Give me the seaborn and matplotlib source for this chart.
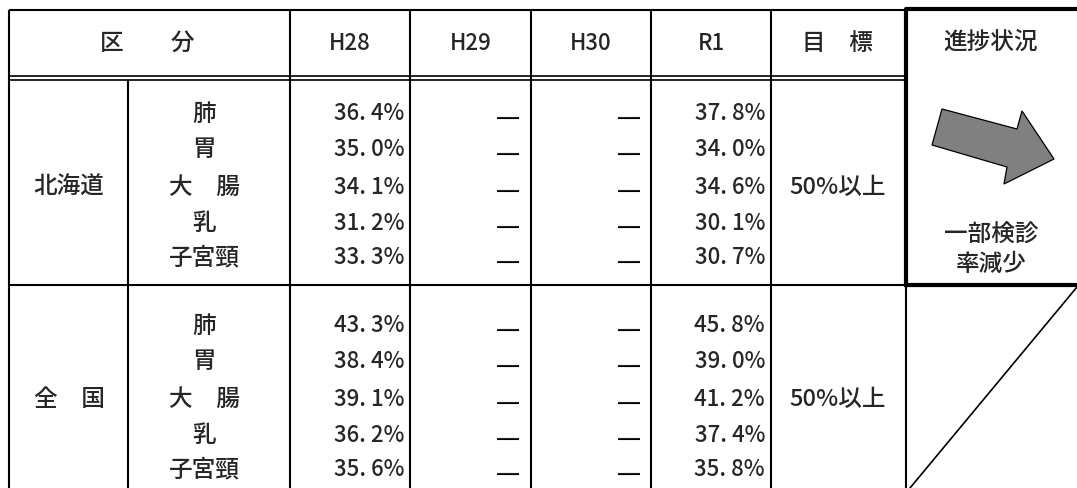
import numpy as np
import matplotlib.pyplot as plt
import matplotlib.patches as mpatches
import matplotlib.patheffects as pe
import seaborn as sns

# table contents
headers = ['H28', 'H29', 'H30', 'R1']
regions = ['北海道', '全　国']
sites = ['肺', '胃', '大　腸', '乳', '子宮頸']
h28 = [[36.4, 35.0, 34.1, 31.2, 33.3],
       [43.3, 38.4, 39.1, 36.2, 35.6]]
r1 = [[37.8, 34.0, 34.6, 30.1, 30.7],
      [45.8, 39.0, 41.2, 37.4, 35.8]]
target = '50%以上'
progress = '一部検診\n率減少'

sns.set_theme(style='white')
plt.rcParams['font.family'] = ['Noto Sans CJK JP', 'DejaVu Sans']
plt.rcParams['font.weight'] = 'medium'

fig = plt.figure(figsize=(10.77, 4.88), dpi=100)
ax = fig.add_axes([0, 0, 1, 1])
ax.set_xlim(0, 1077)
ax.set_ylim(488, 0)
ax.axis('off')

xs = [9, 128, 290, 410, 531, 651, 771, 906, 1077]
lw = 1.5
k = 'black'

# grid lines
ax.hlines(10, xs[0], xs[7], color=k, lw=lw)
ax.hlines([75.7, 80.3], xs[0], xs[7], color=k, lw=1.2)
ax.hlines(285, xs[0], xs[7], color=k, lw=lw)
ax.vlines(xs[0], 10, 488, color=k, lw=lw)
ax.vlines(xs[1], 80, 488, color=k, lw=lw)
ax.vlines(xs[2:7], 10, 488, color=k, lw=lw)
ax.vlines(xs[7], 285, 488, color=k, lw=lw)
# thick box around progress column
ax.plot([xs[7], xs[7], 1080], [285, 8.5, 8.5], color=k, lw=3, solid_capstyle='projecting')
ax.hlines(285, xs[7], 1080, color=k, lw=3)
# diagonal in empty cell
ax.plot([910, 1077], [488, 287], color=k, lw=1.2)

# arrow
arrow = mpatches.Polygon([(942, 109), (1017, 129), (1022, 111), (1054, 159),
                          (1004, 184), (1007, 167), (932, 145)],
                         closed=True, facecolor='#808080', edgecolor=k, lw=0.9)
ax.add_patch(arrow)

fs_cjk = 17
fs_num = 16
heavy = [pe.withStroke(linewidth=0.8, foreground=k)]
kw = dict(va='center')

# header row
hy = 43
ax.text(147, hy, '区　　分', ha='center', fontsize=fs_cjk, **kw)
for i, h in enumerate(headers):
    ax.text((xs[i + 2] + xs[i + 3]) / 2, hy, h, ha='center', fontsize=fs_num, **kw)
ax.text(837, hy, '目　標', ha='center', fontsize=fs_cjk, **kw)
ax.text(991, hy, '進捗状況', ha='center', fontsize=fs_cjk, **kw)

centers = [187, 399]
offs = [-73, -37, 0, 36, 71]
for s in range(2):
    cy = centers[s]
    ax.text(69, cy, regions[s], ha='center', fontsize=fs_cjk, **kw)
    ax.text(838, cy, target, ha='center', fontsize=fs_cjk, **kw)
    for j in range(5):
        y = cy + offs[j]
        ax.text(204, y, sites[j], ha='center', fontsize=fs_cjk, **kw)
        ax.text(404, y, f'{h28[s][j]:.1f}%'.replace('.', '. '), ha='right', fontsize=fs_num, **kw)
        ax.text(520, y + 6, '―', ha='right', va='center', fontsize=18, path_effects=heavy)
        ax.text(641, y + 6, '―', ha='right', va='center', fontsize=18, path_effects=heavy)
        ax.text(765, y, f'{r1[s][j]:.1f}%'.replace('.', '. '), ha='right', fontsize=fs_num, **kw)

ax.text(991, 250, progress, ha='center', fontsize=fs_cjk, linespacing=1.35, **kw)

fig.savefig('out.png', dpi=100)
